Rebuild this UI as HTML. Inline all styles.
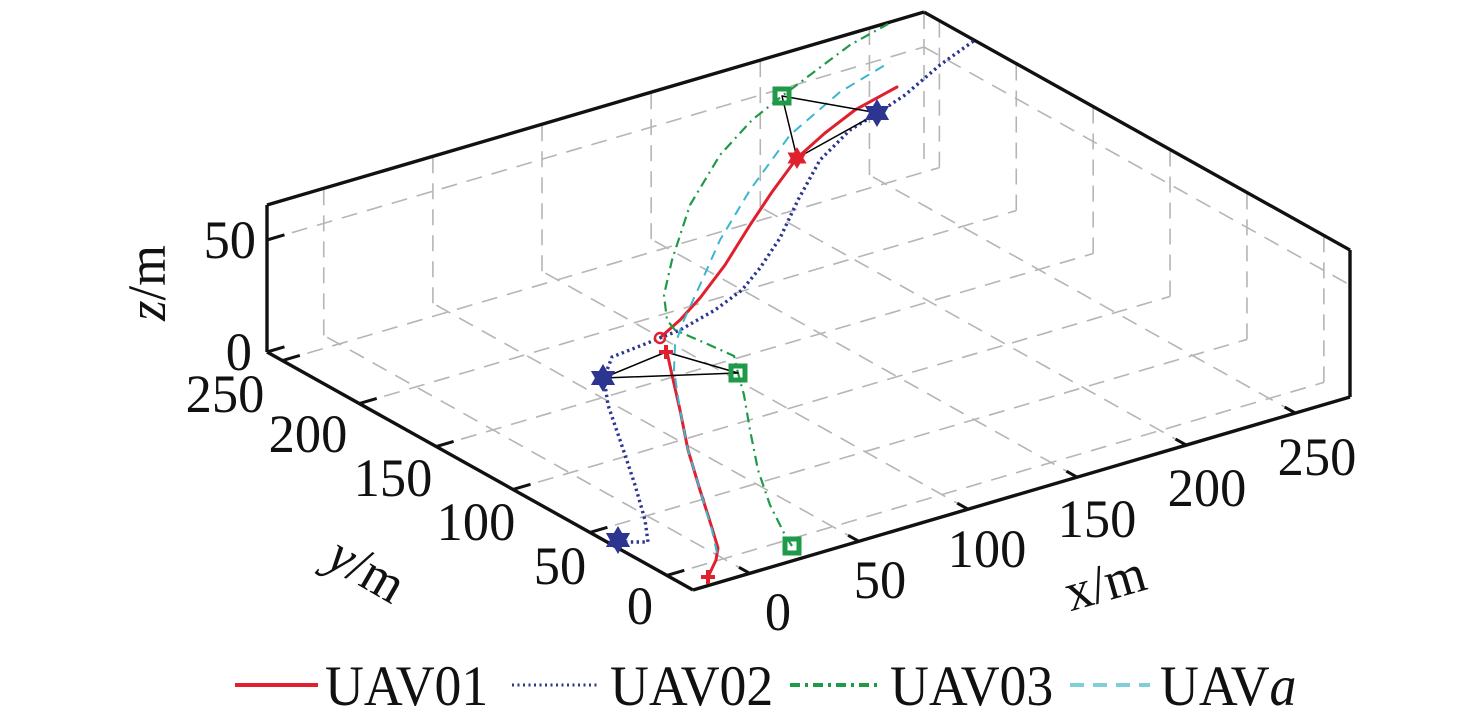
<!DOCTYPE html>
<html><head><meta charset="utf-8"><style>
html,body{margin:0;padding:0;background:#fff;}
svg{display:block;}
text{font-family:"Liberation Serif",serif;fill:#111;}
</style></head><body>
<svg id="s" width="1476" height="719" viewBox="0 0 1476 719" xmlns="http://www.w3.org/2000/svg">
<g id="grid" stroke="#b5b5b5" stroke-width="1.6" stroke-dasharray="16,10" fill="none"></g>
<g id="box" stroke="#111" stroke-width="3.4" fill="none"></g>
<g id="data" fill="none" stroke-linejoin="round" stroke-linecap="round">
<polyline points="708,577 716,560 718,548 712,528 700,490 688,450 680,410 672,375 667,352" stroke="#e0202e" stroke-width="3"/>
<polyline points="662,336 680,320 700,298 725,265 750,225 772,192 797,158 825,133 855,110 897,87" stroke="#e0202e" stroke-width="3"/>
<polyline points="625,542 648,542 645,520 635,485 620,440 608,405 604,378 612,357 640,346 680,330 715,310 742,290 760,268 780,238 798,200 820,160 850,130 878,113 905,95 940,65 975,40" stroke="#2c3590" stroke-width="3.4" stroke-dasharray="2.4,3.4" stroke-linecap="butt"/>
<polyline points="792,546 785,535 770,505 758,470 750,430 744,395 738,373 734,356 705,343 675,330 667,320 664,295 672,260 690,205 720,155 752,120 782,96 810,75 850,45 888,24" stroke="#1e9a48" stroke-width="2.2" stroke-dasharray="10,5,2,5" stroke-linecap="butt"/>
<polyline points="717,553 712,530 700,490 688,450 680,410 674,370 675,345 683,322 700,285 720,240 750,190 790,135 840,92 890,62" stroke="#3ab6d0" stroke-width="2" stroke-dasharray="10,7" stroke-linecap="butt"/>
<polyline points="782,96 878,113 797,158 782,96" stroke="#000" stroke-width="1.5"/>
<polyline points="603,378 666,352 738,373 603,378" stroke="#000" stroke-width="1.5"/>
<circle cx="660" cy="338" r="5" stroke="#e0202e" stroke-width="2.4"/>
</g>
<g id="marks"></g>
<g id="labels" font-size="46"></g>
<g id="leg" font-size="48">
<line x1="235" y1="685" x2="318" y2="685" stroke="#e0202e" stroke-width="4"/>
<line x1="512" y1="685" x2="598" y2="685" stroke="#2c3590" stroke-width="3" stroke-dasharray="2,3.5"/>
<line x1="790" y1="685" x2="878" y2="685" stroke="#1e9a48" stroke-width="4" stroke-dasharray="10,5,3,5"/>
<line x1="1070" y1="685" x2="1150" y2="685" stroke="#7fcfd8" stroke-width="4" stroke-dasharray="14,9"/>
<text transform="translate(325,705) scale(1.12,1.18)">UAV01</text>
<text transform="translate(610,705) scale(1.12,1.18)">UAV02</text>
<text transform="translate(890,705) scale(1.12,1.18)">UAV03</text>
<text transform="translate(1160,705) scale(1.12,1.18)">UAV<tspan font-style="italic">a</tspan></text>
</g>
</svg>
<script>
(function(){
var NS="http://www.w3.org/2000/svg";
var X0=-26,X1=275,Y0=-17,Y1=260,Z1=65.6;
function P(x,y,z){
 var px=693+(x-X0)*657/301+(y-Y0)*(-426)/277;
 var py=590+(x-X0)*(-193)/301+(y-Y0)*(-238)/277-z*2.24;
 return [px,py];}
function L(g,a,b,attrs){var e=document.createElementNS(NS,"line");
 e.setAttribute("x1",a[0]);e.setAttribute("y1",a[1]);e.setAttribute("x2",b[0]);e.setAttribute("y2",b[1]);
 if(attrs)for(var k in attrs)e.setAttribute(k,attrs[k]);document.getElementById(g).appendChild(e);}
var t=[0,50,100,150,200,250];
t.forEach(function(v){
 L("grid",P(v,Y0,0),P(v,Y1,0));
 L("grid",P(X0,v,0),P(X1,v,0));
 L("grid",P(v,Y1,0),P(v,Y1,Z1));
 L("grid",P(X1,v,0),P(X1,v,Z1));
});
L("grid",P(X0,Y1,50),P(X1,Y1,50));L("grid",P(X1,Y1,50),P(X1,Y0,50));
L("grid",P(X1,Y1,0),P(X1,Y1,Z1));
L("box",P(X0,Y0,0),P(X1,Y0,0));L("box",P(X0,Y0,0),P(X0,Y1,0));
L("box",P(X0,Y1,0),P(X0,Y1,Z1));L("box",P(X1,Y0,0),P(X1,Y0,Z1));
L("box",P(X0,Y1,Z1),P(X1,Y1,Z1));L("box",P(X1,Y1,Z1),P(X1,Y0,Z1));
t.forEach(function(v){
 L("box",P(v,Y0,0),P(v,Y0+7,0),{"stroke-width":3});
 L("box",P(X0,v,0),P(X0+8,v,0),{"stroke-width":3});
});
[0,50].forEach(function(v){L("box",P(X0,Y1,v),P(X0+8,Y1,v),{"stroke-width":3});});
var m=document.getElementById("marks");
function star(cx,cy,r,col){var p=[];for(var i=0;i<12;i++){var a=Math.PI/6*i-Math.PI/2,rr=i%2?r*0.58:r;p.push((cx+rr*Math.cos(a)).toFixed(1)+","+(cy+rr*Math.sin(a)).toFixed(1));}
 var e=document.createElementNS(NS,"polygon");e.setAttribute("points",p.join(" "));e.setAttribute("fill",col);m.appendChild(e);}
function sq(cx,cy){var e=document.createElementNS(NS,"rect");e.setAttribute("x",cx-7);e.setAttribute("y",cy-7);e.setAttribute("width",14);e.setAttribute("height",14);
 e.setAttribute("fill","none");e.setAttribute("stroke","#1e9a48");e.setAttribute("stroke-width",5);m.appendChild(e);}
function plus(cx,cy){L("marks",[cx-7,cy],[cx+7,cy],{stroke:"#e0202e","stroke-width":4});L("marks",[cx,cy-7],[cx,cy+7],{stroke:"#e0202e","stroke-width":4});}
star(618,540,14,"#2c3590");star(603,378,14,"#2c3590");star(877,113,14,"#2c3590");
sq(792,546);sq(738,373);sq(782,96);
plus(708,577);plus(666,352);star(797,158,11,"#e0202e");
var lb=document.getElementById("labels");
function T(x,y,s,anchor){var e=document.createElementNS(NS,"text");
 e.setAttribute("transform","translate("+x+","+y+") scale(1.14,1.18)");
 e.setAttribute("text-anchor",anchor||"middle");e.textContent=s;lb.appendChild(e);return e;}
T(256,258,"50","end");T(252,370,"0","end");
var yl=[[640,624],[560,584],[476,540],[393,496],[308,452],[225,412]];
t.forEach(function(v,i){T(yl[i][0],yl[i][1],String(v));});
var xl=[[778,630],[880,598],[987,567],[1097,537],[1207,506],[1317,475]];
t.forEach(function(v,i){T(xl[i][0],xl[i][1],String(v));});
function R(tr,html){var e=document.createElementNS(NS,"text");e.setAttribute("transform",tr);e.setAttribute("text-anchor","middle");e.innerHTML=html;lb.appendChild(e);}
R("translate(165,283) rotate(-90) scale(1.14,1.18)",'<tspan font-style="italic">z</tspan>/m');
R("translate(358,585) rotate(30) scale(1.14,1.18)",'<tspan font-style="italic">y</tspan>/m');
R("translate(1110,600) rotate(-16) scale(1.14,1.18)",'x/m');
})();
</script>
</body></html>
